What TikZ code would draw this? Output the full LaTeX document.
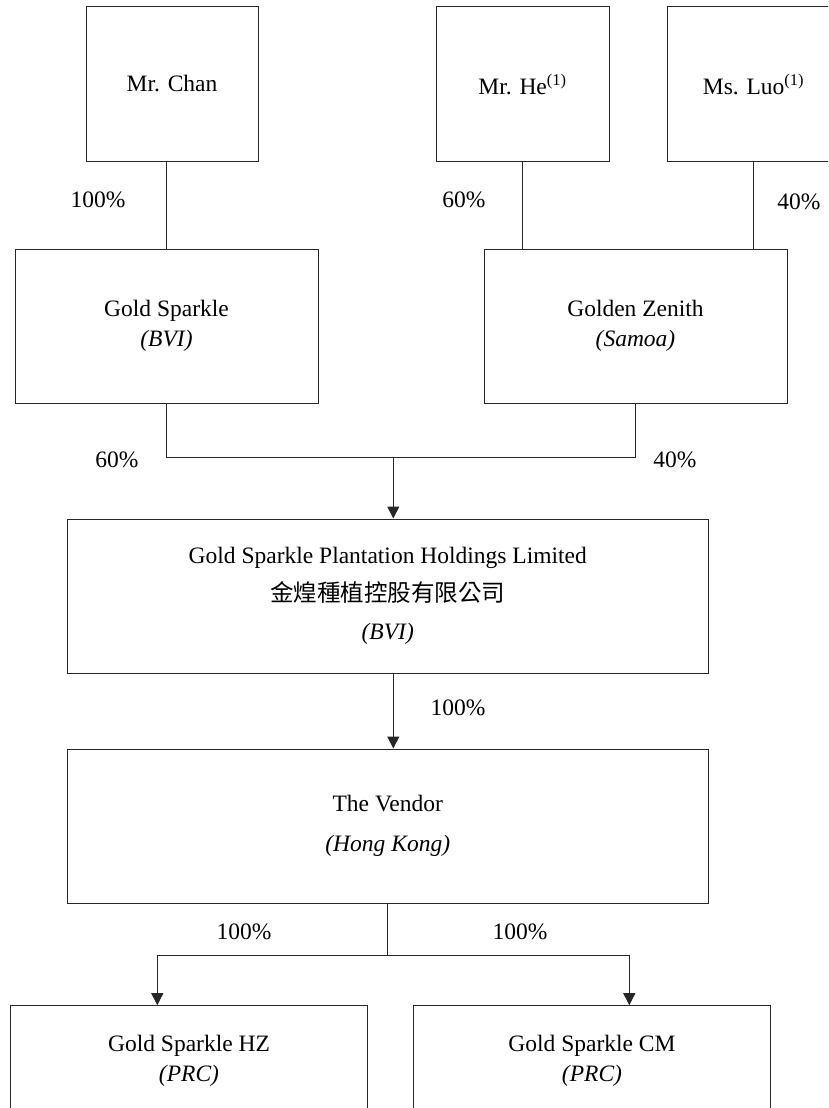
\documentclass[tikz,border=0pt]{standalone}
\usepackage{fontspec}
\setmainfont{Liberation Serif}
\newfontfamily\cjkfont{Noto Sans CJK TC}
\usepackage{tikz}
\usetikzlibrary{arrows.meta,calc}

\begin{document}
\begin{tikzpicture}[
  x=1pt, y=-1pt,
  font=\fontsize{23.5}{28}\selectfont,
  bx/.style ={draw=black!85, line width=1pt, inner sep=0pt, align=center,
              minimum height=154pt},
  own/.style={bx, minimum width=173pt},
  co/.style ={bx, minimum width=303pt},
  wide/.style={bx, minimum width=641.5pt},
  sub/.style={bx, minimum width=357.5pt, minimum height=110pt},
  ln/.style ={draw=black!85, line width=1pt},
  ar/.style ={ln, -{Triangle[length=12pt, width=12pt]}},
  pc/.style ={inner sep=0pt}
]
\useasboundingbox (0,0) rectangle (828,1108);
\clip (0,0) rectangle (828,1108);

% =============== owners ===============
\node[bx, minimum width=172pt] (chan) at (172,84)   {Mr. Chan};
\node[own] (he)  at (522.5,84) {Mr. He\textsuperscript{(1)}};
\node[own] (luo) at (753.5,84) {Ms. Luo\textsuperscript{(1)}};

% =============== holding vehicles ===============
\node[co] (gsb) at (166.5,326) {Gold Sparkle\\[2pt]\textit{(BVI)}};
\node[co] (gz)  at (635.5,326) {Golden Zenith\\[2pt]\textit{(Samoa)}};

\draw[ln] (gsb.north |- chan.south) -- (gsb.north);
\draw[ln] (he.south)  -- (he.south |- gz.north);
\draw[ln] (luo.south) -- (luo.south |- gz.north);

\node[pc] (p1) at (98,200)  {100\%};
\node[pc] (p2) at (464,200) {60\%};
\node[pc] (p3) at (799,202) {40\%};

% =============== group ===============
\node[wide] (hold) at (387.75,596)
  {Gold Sparkle Plantation Holdings Limited\\[10pt]{\cjkfont 金煌種植控股有限公司}\\[10pt]\textit{(BVI)}};
\node[wide] (vend) at (387.75,826) {The Vendor\\[12pt]\textit{(Hong Kong)}};

% both vehicles meet on one bar, a little right of the box centre
\coordinate (jn) at (393.3,457.7);
\draw[ln] (gsb.south) |- (jn -| gz.south) -- (gz.south);
\draw[ar] (jn) -- (jn |- hold.north);
\draw[ar] (jn |- hold.south) -- (jn |- vend.north);

\node[pc] (p4) at (117,460) {60\%};
\node[pc] (p5) at (675,460) {40\%};
\node[pc] (p6) at (458,708) {100\%};

% =============== PRC subsidiaries ===============
\node[sub] (hz) at (189,1060.7)   {Gold Sparkle HZ\\[2pt]\textit{(PRC)}};
\node[sub] (cm) at (592,1060.7) {Gold Sparkle CM\\[2pt]\textit{(PRC)}};

\coordinate (lf) at (157.3,955);
\coordinate (rt) at (629.3,955);
\draw[ar] (vend.south) |- (lf) -- (lf |- hz.north);
\draw[ar] (vend.south) |- (rt) -- (rt |- cm.north);

\node[pc] (p7) at (244,932) {100\%};
\node[pc] (p8) at (520,932) {100\%};
\end{tikzpicture}
\end{document}
